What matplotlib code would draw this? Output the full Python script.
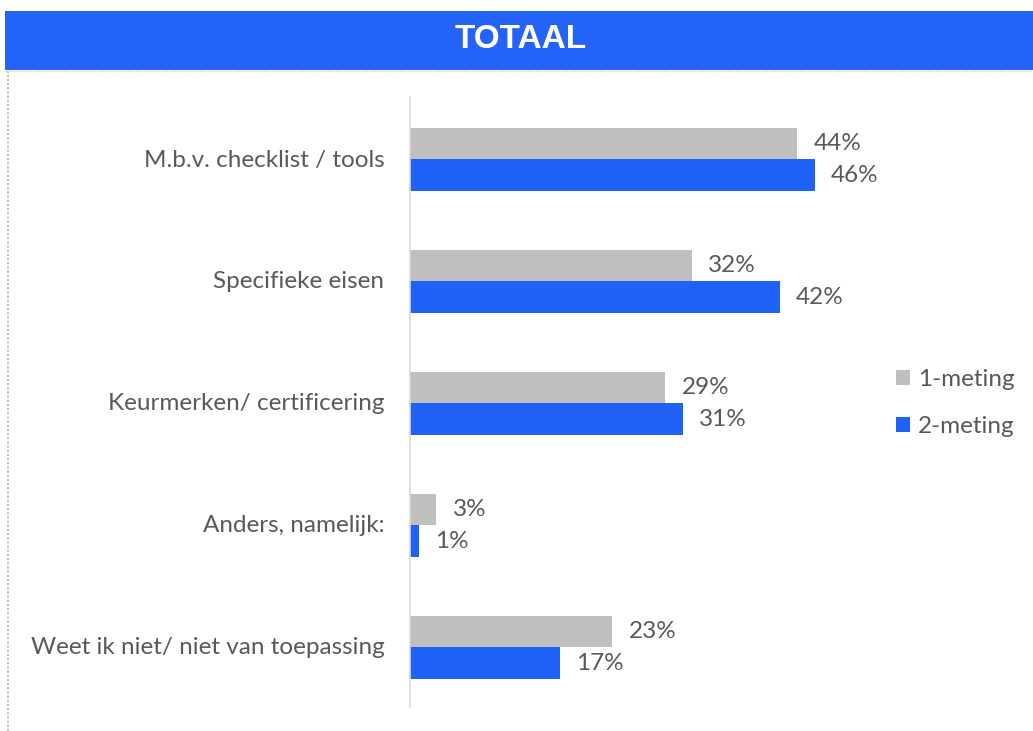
import matplotlib
matplotlib.use("Agg")
import matplotlib.pyplot as plt
from matplotlib.patches import Rectangle
from matplotlib.lines import Line2D

categories = [
    "M.b.v. checklist / tools",
    "Specifieke eisen",
    "Keurmerken/ certificering",
    "Anders, namelijk:",
    "Weet ik niet/ niet van toepassing",
]
meting1 = [44, 32, 29, 3, 23]
meting2 = [46, 42, 31, 1, 17]
series_names = ["1-meting", "2-meting"]
title = "TOTAAL"

GRAY = "#BFBFBF"
BLUE = "#2162F6"
BANNER = "#2463F7"
TEXT = "#595959"
FONT = ["Lato", "DejaVu Sans"]
FS = 17.5

W, H = 1033, 731
fig = plt.figure(figsize=(W / 100, H / 100), dpi=100)
fig.patch.set_facecolor("white")

# banner
fig.patches.append(Rectangle((5 / W, 1 - 70 / H), 1 - 5 / W, 59 / H,
                             transform=fig.transFigure, facecolor=BANNER,
                             edgecolor="none", zorder=0))
fig.text(0.5 + 4 / W, 1 - 40 / H, title, ha="center", va="center", color="white",
         fontsize=24, fontweight="bold",
         family=["Liberation Sans", "DejaVu Sans"])

# dotted frame lines
fig.add_artist(Line2D([8 / W, 8 / W], [0, 1 - 71 / H], transform=fig.transFigure,
                      color="#BFBFBF", lw=1.5, ls=(0, (1, 1))))
fig.add_artist(Line2D([5 / W, 1], [1 - 71 / H, 1 - 71 / H], transform=fig.transFigure,
                      color="#C8D2E8", lw=1.0, ls=(0, (1, 1))))

# plot area
ax_left, ax_right = 410, 860
ax_top, ax_bot = 97, 707
ax = fig.add_axes([ax_left / W, 1 - ax_bot / H, (ax_right - ax_left) / W,
                   (ax_bot - ax_top) / H])
px_per_unit = 8.8
ax.set_xlim(0, (ax_right - ax_left) / px_per_unit)
n = len(categories)
ax.set_ylim(n - 0.5, -0.5)

h = 0.26
ys = list(range(n))
b1 = ax.barh([y - h / 2 + 0.01 for y in ys], meting1, height=h, color=GRAY,
             label=series_names[0])
b2 = ax.barh([y + h / 2 + 0.01 for y in ys], meting2, height=h, color=BLUE,
             label=series_names[1])

for bars, vals in ((b1, meting1), (b2, meting2)):
    for bar, v in zip(bars, vals):
        ax.text(v + 1.85, bar.get_y() + bar.get_height() / 2, f"{v}%",
                va="center", ha="left", color=TEXT, fontsize=FS, family=FONT)

ax.set_yticks(ys)
ax.set_yticklabels(categories, fontsize=FS, color=TEXT, family=FONT)
ax.tick_params(axis="y", length=0, pad=18.5)
ax.set_xticks([])
for s in ("top", "right", "bottom"):
    ax.spines[s].set_visible(False)
ax.spines["left"].set_color("#D9D9D9")
ax.spines["left"].set_linewidth(1.2)

leg = fig.legend(handles=[b1, b2], labels=series_names, loc="center left",
                 bbox_to_anchor=(874 / W, 1 - 403 / H), frameon=False,
                 prop={"family": FONT, "size": FS}, handlelength=0.58,
                 handleheight=0.58, handletextpad=0.33, labelspacing=1.05)
for t in leg.get_texts():
    t.set_color(TEXT)

fig.savefig("out.png", dpi=100, facecolor="white")
